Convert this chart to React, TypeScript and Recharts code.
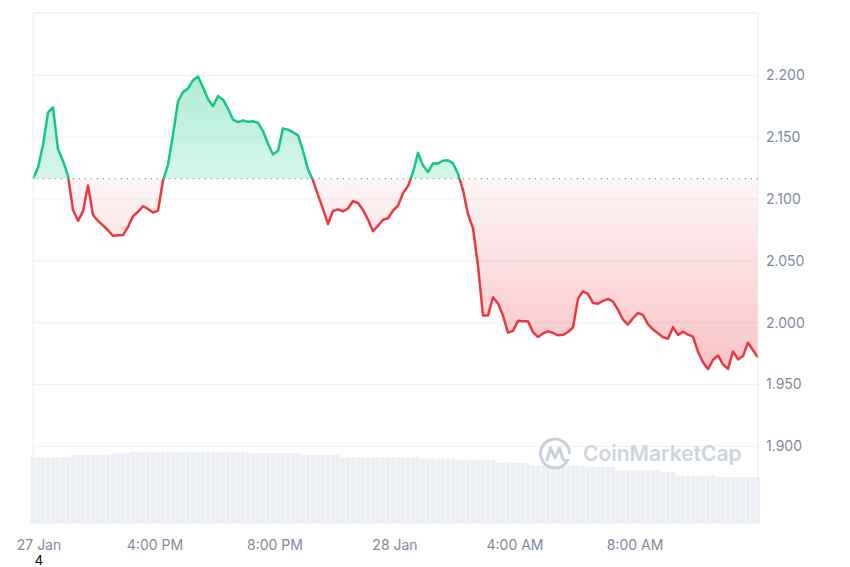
import React from 'react';
import {
  ComposedChart,
  Area,
  Bar,
  XAxis,
  YAxis,
  CartesianGrid,
  ReferenceLine,
} from 'recharts';

// 10-minute samples, minutes counted from 12:00 PM on 27 Jan
const START_MIN = -4;
const STEP_MIN = 10;

// price at the open of the 24h window (dotted reference line)
const BASE_PRICE = 2.1165;

const prices = [
  2.1165, 2.1254, 2.1437, 2.17, 2.1742, 2.1403, 2.1308, 2.119, 2.0912, 2.0824,
  2.09, 2.111, 2.0871, 2.0824, 2.0787, 2.0748, 2.0703, 2.0707, 2.0709, 2.0774,
  2.0861, 2.0897, 2.0942, 2.092, 2.0891, 2.0906, 2.115, 2.1277, 2.1519, 2.1789,
  2.1865, 2.1895, 2.1961, 2.1992, 2.1904, 2.1808, 2.1751, 2.1834, 2.1804, 2.1731,
  2.1643, 2.1622, 2.1635, 2.1626, 2.1629, 2.1616, 2.1549, 2.1447, 2.136, 2.139,
  2.1572, 2.1561, 2.1541, 2.1515, 2.1391, 2.124, 2.1152, 2.1032, 2.0921, 2.0798,
  2.0903, 2.0917, 2.09, 2.0924, 2.0984, 2.0968, 2.0912, 2.0834, 2.074, 2.0784,
  2.0833, 2.0845, 2.0906, 2.0946, 2.1048, 2.1105, 2.1215, 2.1374, 2.1272, 2.1218,
  2.1289, 2.1288, 2.131, 2.1314, 2.1289, 2.1203, 2.1073, 2.0878, 2.0764, 2.0461,
  2.0058, 2.0058, 2.0206, 2.0156, 2.0058, 1.992, 1.9934, 2.0015, 2.0012, 2.0011,
  1.9924, 1.9884, 1.9913, 1.993, 1.9918, 1.9898, 1.9902, 1.9925, 1.9961, 2.0195,
  2.0254, 2.0234, 2.016, 2.0154, 2.0176, 2.0192, 2.0171, 2.0105, 2.0025, 1.9985,
  2.0036, 2.0079, 2.0062, 1.9986, 1.9946, 1.9915, 1.9883, 1.987, 1.9964, 1.9901,
  1.9928, 1.9903, 1.9887, 1.9765, 1.968, 1.9625, 1.9699, 1.9735, 1.9662, 1.9627,
  1.9767, 1.9703, 1.9731, 1.9839, 1.9777, 1.9719,
];

// volume (arbitrary units, hidden axis)
const volumes = [
  12.9, 12.9, 12.9, 12.9, 12.9, 12.9, 12.9, 12.9,
  13.3, 13.3, 13.3, 13.3, 13.3, 13.3, 13.3, 13.3,
  13.6, 13.6, 13.6, 13.6,
  13.9, 13.9, 13.9, 13.9, 13.9, 13.9, 13.9, 13.9, 13.9,
  14.0, 14.0, 14.0, 14.0, 14.0, 14.0, 14.0,
  13.9, 13.9, 13.9, 13.9, 13.9, 13.9, 13.9, 13.9,
  13.7, 13.7, 13.7, 13.7, 13.7, 13.7, 13.7, 13.7, 13.7, 13.7,
  13.3, 13.3, 13.3, 13.3, 13.3, 13.3, 13.3, 13.3,
  12.9, 12.9, 12.9, 12.9, 12.9, 12.9, 12.9, 12.9, 12.9, 12.9, 12.9, 12.9, 12.9, 12.9, 12.9, 12.9,
  12.6, 12.6, 12.6, 12.6, 12.6, 12.6, 12.6,
  12.3, 12.3, 12.3, 12.3, 12.3, 12.3, 12.3, 12.3,
  11.8, 11.8, 11.8, 11.8, 11.8, 11.8, 11.8,
  11.3, 11.3, 11.3, 11.3, 11.3, 11.3, 11.3, 11.3, 11.3, 11.3, 11.3,
  11.0, 11.0, 11.0, 11.0, 11.0, 11.0,
  10.3, 10.3, 10.3, 10.3, 10.3, 10.3, 10.3, 10.3, 10.3,
  10.0, 10.0, 10.0,
  9.3, 9.3, 9.3, 9.3, 9.3, 9.3, 9.3, 9.3,
  9.0, 9.0, 9.0, 9.0, 9.0, 9.0, 9.0, 9.0, 9.0,
];

const xTicks = [0, 240, 480, 720, 960, 1200];
const xTickLabels = ['27 Jan', '4:00 PM', '8:00 PM', '28 Jan', '4:00 AM', '8:00 AM'];
const yTicks = [1.9, 1.95, 2.0, 2.05, 2.1, 2.15, 2.2];

const X_MIN = START_MIN;
const X_MAX = START_MIN + (prices.length - 1) * STEP_MIN;
const Y_MIN = 1.838;
const Y_MAX = 2.2505;

const data = prices.map((price, i) => ({
  t: START_MIN + i * STEP_MIN,
  price,
  volume: volumes[i],
}));

const GREEN = '#16c784';
const RED = '#ea3943';
const LABEL = '#808a9d';
const GRID = '#eff1f4';

const maxP = Math.max(...prices);
const minP = Math.min(...prices);
const split = (maxP - BASE_PRICE) / (maxP - minP);

const XTick = (props: any) => {
  const { x, y, index } = props;
  return (
    <text
      x={x + (index === 0 ? 4 : 0)}
      y={y - 1}
      dy="0.71em"
      textAnchor="middle"
      fill={LABEL}
      fontSize={14}
      fontFamily="Inter, sans-serif"
    >
      {xTickLabels[index]}
    </text>
  );
};

const Watermark = () => (
  <div
    style={{
      position: 'absolute',
      left: 538,
      top: 436,
      display: 'flex',
      alignItems: 'center',
      pointerEvents: 'none',
    }}
  >
    <svg width={35} height={35} viewBox="0 0 35 35">
      <path
        d="M 28 27 A 14.5 14.5 0 1 1 31.5 17"
        fill="none"
        stroke="#c9d0dd"
        strokeWidth={3}
        strokeLinecap="round"
      />
      <path
        d="M 9 24 L 12.5 12 L 17 22 L 21.5 12 L 24.5 22 Q 26 26 30 24"
        fill="none"
        stroke="#c9d0dd"
        strokeWidth={3}
        strokeLinejoin="round"
        strokeLinecap="round"
      />
    </svg>
    <span
      style={{
        marginLeft: 10,
        fontFamily: 'Inter, sans-serif',
        fontWeight: 600,
        fontSize: 21,
        color: '#cdd4e1',
      }}
    >
      CoinMarketCap
    </span>
  </div>
);

export default function App() {
  return (
    <div style={{ position: 'absolute', left: 0, top: 0, width: 850, height: 567, background: '#fff' }}>
      <ComposedChart
        width={850}
        height={567}
        data={data}
        margin={{ top: 13, right: 0, bottom: 14, left: 33 }}
      >
        <defs>
          <linearGradient id="strokeSplit" x1="0" y1="0" x2="0" y2="1">
            <stop offset={0} stopColor={GREEN} />
            <stop offset={split} stopColor={GREEN} />
            <stop offset={split} stopColor={RED} />
            <stop offset={1} stopColor={RED} />
          </linearGradient>
          <linearGradient id="fillSplit" x1="0" y1="0" x2="0" y2="1">
            <stop offset={0} stopColor={GREEN} stopOpacity={0.34} />
            <stop offset={split} stopColor={GREEN} stopOpacity={0.17} />
            <stop offset={split} stopColor={RED} stopOpacity={0.05} />
            <stop offset={1} stopColor={RED} stopOpacity={0.3} />
          </linearGradient>
        </defs>
        <CartesianGrid vertical={false} stroke={GRID} yAxisId="price" />
        <XAxis
          dataKey="t"
          type="number"
          domain={[X_MIN, X_MAX]}
          ticks={xTicks}
          tick={<XTick />}
          axisLine={false}
          tickLine={false}
          tickMargin={12}
          height={30}
          interval={0}
        />
        <YAxis
          yAxisId="price"
          orientation="right"
          domain={[Y_MIN, Y_MAX]}
          ticks={yTicks}
          allowDataOverflow
          tickFormatter={(v: number) => v.toFixed(3)}
          tick={{ fill: LABEL, fontSize: 14, fontFamily: 'Inter, sans-serif' }}
          axisLine={false}
          tickLine={false}
          width={92}
        />
        <YAxis yAxisId="vol" hide domain={[0, 100]} />
        <Bar
          yAxisId="vol"
          dataKey="volume"
          fill="#eceff3"
          barSize={5}
          isAnimationActive={false}
        />
        <ReferenceLine yAxisId="price" y={Y_MAX} stroke="#ebedf0" />
        <ReferenceLine yAxisId="price" x={X_MIN} stroke="#ebedf0" />
        <ReferenceLine yAxisId="price" x={X_MAX} stroke="#ebedf0" />
        <Area
          yAxisId="price"
          type="linear"
          dataKey="price"
          baseValue={BASE_PRICE}
          stroke="url(#strokeSplit)"
          strokeWidth={2.5}
          strokeLinejoin="round"
          fill="url(#fillSplit)"
          fillOpacity={1}
          dot={false}
          activeDot={false}
          isAnimationActive={false}
        />
        <ReferenceLine
          yAxisId="price"
          y={BASE_PRICE}
          stroke="#9a9a9a"
          strokeWidth={1.2}
          strokeDasharray="1.2 4.8"
        />
      </ComposedChart>
      <Watermark />
      <div
        style={{
          position: 'absolute',
          left: 35,
          top: 555,
          fontFamily: '"Liberation Sans", Arial, sans-serif',
          fontSize: 14,
          lineHeight: '11px',
          color: '#000',
        }}
      >
        4
      </div>
    </div>
  );
}
